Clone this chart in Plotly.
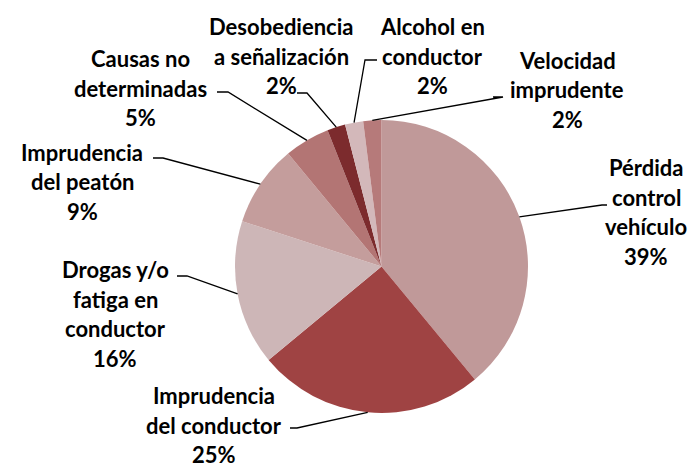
import math
import plotly.graph_objects as go

W, H = 700, 468

causas = ["Pérdida control vehículo", "Imprudencia del conductor",
          "Drogas y/o fatiga en conductor", "Imprudencia del peatón",
          "Causas no determinadas", "Desobediencia a señalización",
          "Alcohol en conductor", "Velocidad imprudente"]
porcentajes = [39, 25, 16, 9, 5, 2, 2, 2]
etiquetas = [["Pérdida", "control", "vehículo", "39%"],
             ["Imprudencia", "del conductor", "25%"],
             ["Drogas y/o", "fatiga en", "conductor", "16%"],
             ["Imprudencia", "del peatón", "9%"],
             ["Causas no", "determinadas", "5%"],
             ["Desobediencia", "a señalización", "2%"],
             ["Alcohol en", "conductor", "2%"],
             ["Velocidad", "imprudente", "2%"]]
colores = ["#C09999", "#9F4343", "#CDB6B7", "#C49D9C",
           "#B37574", "#7C2B2D", "#D3B8BA", "#B67A7A"]

# label layout in pixels: text centre, elbow point, end of short horizontal
pos_texto = [(646, 212), (214, 425), (115, 314), (82, 182),
             (140, 88), (281, 56), (432, 56), (567, 90)]
codo = [(602, 205), (297, 428), (187, 276), (163, 158),
        (228, 92), (307, 93), (365, 60), (503, 97)]
fin = [(607, 205), (290, 428), (177, 276), (153, 158),
       (217, 92), (297, 93), (377, 60), (493, 97)]
interlineado = 29.5

cx, cy, r = 381.5, 266.5, 146.5


def px(x):
    return x / W


def py(y):
    return 1 - y / H


fig = go.Figure(go.Pie(labels=causas, values=porcentajes, sort=False,
                       direction="clockwise", rotation=0,
                       textinfo="none", hoverinfo="label+percent",
                       marker=dict(colors=colores, line=dict(width=0)),
                       domain=dict(x=[px(cx - r), px(cx + r)],
                                   y=[py(cy + r), py(cy - r)]),
                       showlegend=False))

total = sum(porcentajes)
acum = 0
shapes = []
annotations = []
for i, v in enumerate(porcentajes):
    ang = 2 * math.pi * (acum + v / 2) / total
    acum += v
    ex, ey = cx + r * math.sin(ang), cy - r * math.cos(ang)
    path = "M {} {} L {} {} L {} {}".format(px(ex), py(ey), px(codo[i][0]), py(codo[i][1]),
                                            px(fin[i][0]), py(fin[i][1]))
    shapes.append(dict(type="path", path=path, xref="paper", yref="paper",
                       line=dict(color="black", width=1.3)))
    n = len(etiquetas[i])
    for k, linea in enumerate(etiquetas[i]):
        yl = pos_texto[i][1] + (k - (n - 1) / 2) * interlineado
        annotations.append(dict(x=px(pos_texto[i][0]), y=py(yl),
                                xref="paper", yref="paper", text=linea,
                                showarrow=False, xanchor="center", yanchor="middle",
                                font=dict(family="Lato", size=22, weight="bold",
                                          color="black")))

fig.update_layout(width=W, height=H, margin=dict(l=0, r=0, t=0, b=0),
                  paper_bgcolor="white", plot_bgcolor="white",
                  shapes=shapes, annotations=annotations)
fig.write_html("out.html", config={"displayModeBar": False},
               post_script="document.body.style.margin='0px';")
